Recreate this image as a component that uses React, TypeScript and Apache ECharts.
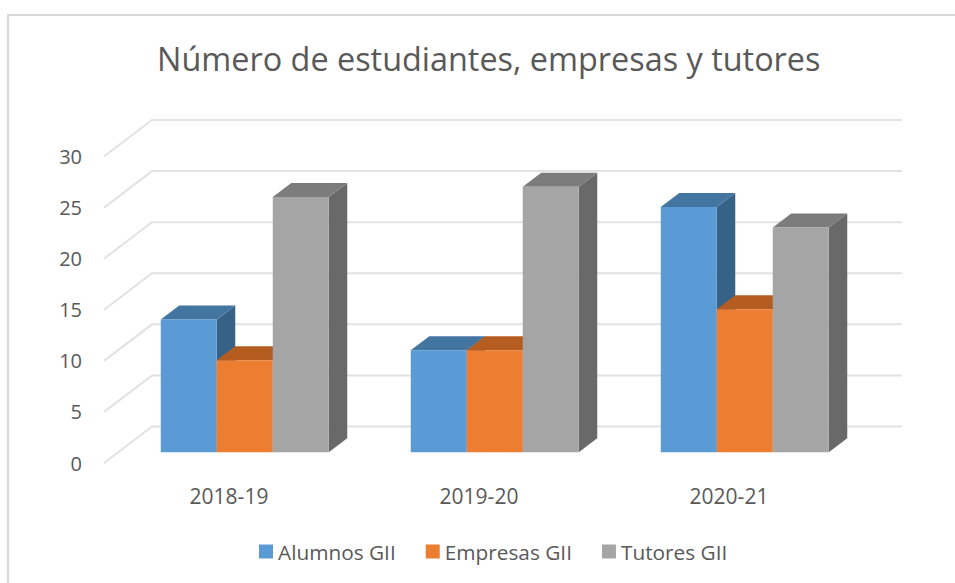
import React, { useEffect, useRef } from "react";
import * as echarts from "echarts";

const categories = ["2018-19", "2019-20", "2020-21"];
const alumnos = [13, 10, 24];
const empresas = [9, 10, 14];
const tutores = [25, 26, 22];
const ticks = [0, 5, 10, 15, 20, 25, 30];
const FONT = "'Open Sans', sans-serif";
const TEXT = "#595959";

const GRID_W = 750;
const WALL_DX = 48;
const WALL_DY = -36.5;
const BAR_W = 56;
const DEPTH_DX = 18.5;
const DEPTH_DY = -14;
const FRONT_DX = 15.75;
const FRONT_DY = -10.7;

function barSeries(name: string, values: number[], idx: number, front: string, top: string, side: string) {
  return {
    name,
    type: "custom",
    coordinateSystem: "cartesian2d",
    itemStyle: { color: front },
    data: values.map((v, i) => [i, v]),
    z: 3 + idx,
    renderItem: (_p: any, api: any) => {
      const base = api.coord([api.value(0), 0]);
      const t = api.coord([api.value(0), api.value(1)]);
      const x0 = base[0] + FRONT_DX + (idx - 1.5) * BAR_W;
      const x1 = x0 + BAR_W;
      const yb = base[1] + FRONT_DY;
      const yt = t[1] + FRONT_DY;
      const poly = (points: number[][], fill: string) => ({
        type: "polygon",
        shape: { points },
        style: { fill, stroke: null },
      });
      return {
        type: "group",
        children: [
          poly(
            [[x1, yb], [x1 + DEPTH_DX, yb + DEPTH_DY], [x1 + DEPTH_DX, yt + DEPTH_DY], [x1, yt]],
            side
          ),
          poly(
            [[x0, yt], [x0 + DEPTH_DX, yt + DEPTH_DY], [x1 + DEPTH_DX, yt + DEPTH_DY], [x1, yt]],
            top
          ),
          poly([[x0, yb], [x1, yb], [x1, yt], [x0, yt]], front),
        ],
      };
    },
  };
}

export default function App() {
  const ref = useRef<HTMLDivElement>(null);
  useEffect(() => {
    const chart = echarts.init(ref.current!, undefined, { renderer: "svg" });
    chart.setOption({
      animation: false,
      backgroundColor: "#fff",
      title: {
        text: "Número de estudiantes, empresas y tutores",
        left: 152,
        top: 37,
        textStyle: { fontFamily: FONT, fontSize: 32.4, fontWeight: "normal", color: TEXT },
      },
      legend: {
        data: ["Alumnos GII", "Empresas GII", "Tutores GII"],
        bottom: 16,
        left: 254,
        icon: "rect",
        itemWidth: 14,
        itemHeight: 14,
        itemGap: 30,
        textStyle: { fontFamily: FONT, fontSize: 20.8, color: TEXT },
      },
      grid: { left: 104, top: 156.5, width: GRID_W, height: 306.5 },
      xAxis: {
        type: "category",
        data: categories,
        axisLine: { show: false },
        axisTick: { show: false },
        axisLabel: { fontFamily: FONT, fontSize: 21, color: TEXT, margin: 22 },
      },
      yAxis: {
        type: "value",
        min: 0,
        max: 30,
        interval: 5,
        axisLine: { show: false },
        axisTick: { show: false },
        splitLine: { show: false },
        axisLabel: { fontFamily: FONT, fontSize: 20, color: TEXT, margin: 22 },
      },
      series: [
        {
          type: "custom",
          silent: true,
          z: 1,
          coordinateSystem: "cartesian2d",
          data: ticks.map((t) => [0, t]),
          renderItem: (_p: any, api: any) => {
            const y = api.coord([0, api.value(1)])[1];
            const points = [
              [104, y],
              [104 + WALL_DX, y + WALL_DY],
              [104 + WALL_DX + GRID_W, y + WALL_DY],
            ];
            return {
              type: "polyline",
              shape: { points },
              style: { fill: null, stroke: "#e2e2e2", lineWidth: 2 },
            };
          },
        },
        barSeries("Alumnos GII", alumnos, 0, "#5B9BD5", "#4375A1", "#376287"),
        barSeries("Empresas GII", empresas, 1, "#ED7D31", "#B55D20", "#9E5420"),
        barSeries("Tutores GII", tutores, 2, "#A5A5A5", "#7C7C7C", "#696969"),
      ],
      graphic: [
        {
          type: "polyline",
          silent: true,
          z: 0,
          shape: { points: [[8, 583], [8, 15], [955, 15]] },
          style: { fill: "none", stroke: "#d9d9d9", lineWidth: 2 },
        },
      ],
    });
    return () => chart.dispose();
  }, []);
  return <div ref={ref} style={{ position: "fixed", left: 0, top: 0, width: 955, height: 583 }} />;
}
